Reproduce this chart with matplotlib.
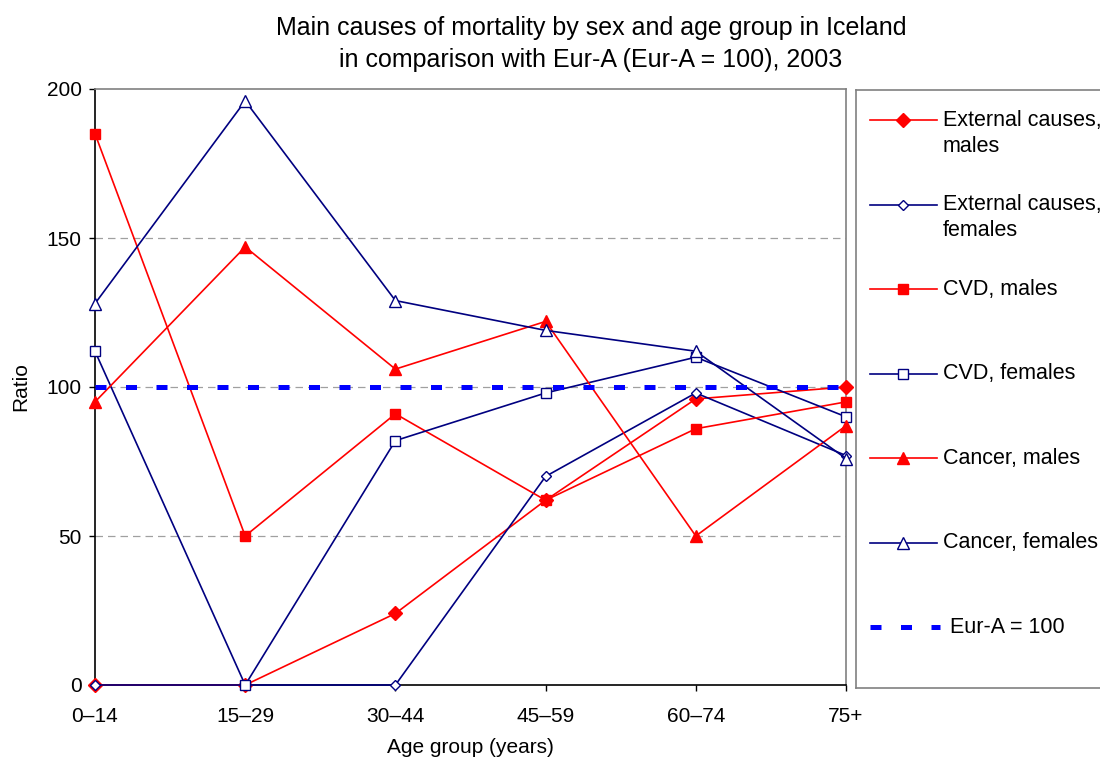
import matplotlib
matplotlib.use("Agg")
import matplotlib.pyplot as plt

plt.rcParams['font.family'] = ['Liberation Sans', 'DejaVu Sans']

ages = ['0–14', '15–29', '30–44', '45–59', '60–74', '75+']

ext_males = [0, 0, 24, 62, 96, 100]
ext_females = [0, 0, 0, 70, 98, 77]
cvd_males = [185, 50, 91, 62, 86, 95]
cvd_females = [112, 0, 82, 98, 110, 90]
cancer_males = [95, 147, 106, 122, 50, 87]
cancer_females = [128, 196, 129, 119, 112, 76]
eur_a = [100, 100, 100, 100, 100, 100]

RED = '#FF0000'
NAVY = '#000080'
BLUE = '#0000FF'

series = [
    ('External causes,\nmales', ext_males, dict(color=RED, marker='D', ms=7, mfc=RED, mec=RED)),
    ('External causes,\nfemales', ext_females, dict(color=NAVY, marker='D', ms=5.5, mfc='white', mec=NAVY, mew=1)),
    ('CVD, males', cvd_males, dict(color=RED, marker='s', ms=7, mfc=RED, mec=RED)),
    ('CVD, females', cvd_females, dict(color=NAVY, marker='s', ms=6.5, mfc='white', mec=NAVY, mew=1)),
    ('Cancer, males', cancer_males, dict(color=RED, marker='^', ms=8.5, mfc=RED, mec=RED)),
    ('Cancer, females', cancer_females, dict(color=NAVY, marker='^', ms=8.5, mfc='white', mec=NAVY, mew=1)),
]
EUR_DASH = (2.2, 3.9)

fig = plt.figure(figsize=(11, 7.65), dpi=100)
W, H = 1100, 765
ax = fig.add_axes([95 / W, 1 - 685 / H, (846 - 95) / W, (685 - 89) / H])

x = list(range(len(ages)))
for label, vals, st in series:
    ax.plot(x, vals, lw=1.2, clip_on=False, zorder=3, **st)
ax.plot(x, eur_a, color=BLUE, lw=3.6, dashes=EUR_DASH, dash_capstyle='butt', zorder=4)

ax.set_xlim(0, 5)
ax.set_ylim(0, 200)
ax.set_yticks([0, 50, 100, 150, 200])
ax.set_xticks(x)
ax.set_xticklabels(ages)
ax.tick_params(axis='both', labelsize=15, direction='out', length=4.5, width=1, color='black')
ax.tick_params(axis='x', pad=11)
ax.tick_params(axis='y', pad=5)
for v in [50, 100, 150]:
    ax.axhline(v, color='#a0a0a0', lw=0.9, dashes=(6, 4), zorder=1)
ax.spines['left'].set_color('black')
ax.spines['bottom'].set_color('black')
ax.spines['top'].set_color('#808080')
ax.spines['right'].set_color('#808080')
for s in ax.spines.values():
    s.set_linewidth(1.2)

ax.set_xlabel('Age group (years)', fontsize=15, labelpad=9)
ax.set_ylabel('Ratio', fontsize=15, labelpad=12)

fig.text(591 / W, 1 - 44 / H,
         'Main causes of mortality by sex and age group in Iceland\n'
         'in comparison with Eur-A (Eur-A = 100), 2003',
         ha='center', va='center', fontsize=18, linespacing=1.45)

# legend box, drawn in pixel coordinates
lg = fig.add_axes([856 / W, 1 - 688 / H, 260 / W, (688 - 90) / H])
lg.set_xlim(856, 1116)
lg.set_ylim(688, 90)
lg.set_xticks([])
lg.set_yticks([])
for s in lg.spines.values():
    s.set_color('#808080')
    s.set_linewidth(1.2)

y0, step = 120, 84.5
for i, (label, vals, st) in enumerate(series):
    yy = y0 + i * step
    lg.plot([870, 937], [yy, yy], lw=1.2, color=st['color'])
    mst = {k: v for k, v in st.items() if k != 'color'}
    lg.plot([903.5], [yy], ls='none', **mst)
    for j, line in enumerate(label.split('\n')):
        lg.text(943, yy + j * 26, line, fontsize=15.5, va='center', ha='left')
yy = y0 + 6 * step
lg.plot([870, 940], [yy, yy], color=BLUE, lw=3.6, dashes=EUR_DASH, dash_capstyle='butt')
lg.text(950, yy, 'Eur-A = 100', fontsize=15.5, va='center', ha='left')

fig.savefig('out.png', dpi=100)
